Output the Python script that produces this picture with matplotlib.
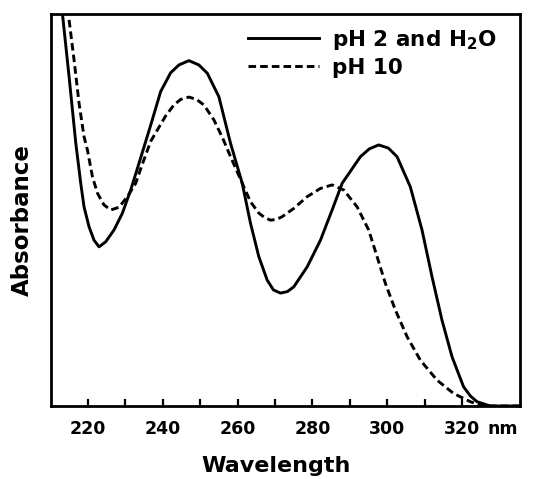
import numpy as np
import matplotlib
matplotlib.use('Agg')
import matplotlib.pyplot as plt

# absorption spectra (absorbance in arbitrary units, 0 = baseline)
wl_acid = [213.16, 214.93, 216.72, 218.05, 218.93, 220.27, 221.60, 222.94, 224.73, 226.94,
           229.19, 231.40, 233.62, 236.74, 239.41, 242.08, 244.30, 246.97, 249.64, 251.88,
           254.98, 258.10, 261.23, 263.44, 265.66, 267.90, 269.58, 271.46, 273.33, 275.01,
           278.59, 282.14, 285.26, 287.93, 292.82, 295.22, 297.70, 300.29, 302.62, 306.17,
           309.29, 311.96, 314.63, 317.30, 320.40, 322.19, 323.98, 327.53, 335.5]
abs_acid = [1.000, 0.840, 0.671, 0.568, 0.508, 0.457, 0.423, 0.406, 0.419, 0.449,
            0.492, 0.551, 0.619, 0.716, 0.802, 0.850, 0.870, 0.881, 0.870, 0.849,
            0.789, 0.670, 0.568, 0.466, 0.381, 0.321, 0.296, 0.288, 0.292, 0.304,
            0.355, 0.423, 0.500, 0.568, 0.636, 0.656, 0.666, 0.658, 0.636, 0.559,
            0.449, 0.330, 0.219, 0.126, 0.049, 0.026, 0.011, 0.0, 0.0]

wl_base = [214.93, 216.26, 217.60, 218.93, 219.84, 221.17, 222.51, 224.27, 226.06, 228.28,
           230.52, 232.74, 234.07, 236.74, 240.75, 242.96, 244.75, 246.97, 249.03, 250.97,
           253.64, 255.97, 258.10, 261.66, 263.44, 265.66, 267.18, 268.78, 270.39, 271.91,
           275.01, 278.59, 282.14, 285.26, 288.36, 291.94, 295.03, 297.28, 299.49, 302.16,
           305.29, 308.84, 313.30, 317.73, 322.19, 325.74, 335.5]
abs_base = [0.985, 0.883, 0.772, 0.687, 0.653, 0.585, 0.543, 0.513, 0.500, 0.507,
            0.534, 0.568, 0.605, 0.675, 0.740, 0.768, 0.782, 0.788, 0.782, 0.768,
            0.730, 0.684, 0.636, 0.559, 0.521, 0.492, 0.481, 0.474, 0.476, 0.483,
            0.504, 0.534, 0.555, 0.564, 0.551, 0.508, 0.449, 0.381, 0.313, 0.245,
            0.177, 0.117, 0.066, 0.032, 0.011, 0.0, 0.0]

xticks = list(range(220, 330, 10))
xticklabels = ['220', '', '240', '', '260', '', '280', '', '300', '', '320']

plt.rcParams['font.family'] = 'DejaVu Sans'
plt.rcParams['font.weight'] = 'bold'
plt.rcParams['axes.labelweight'] = 'bold'

fig = plt.figure(figsize=(5.45, 4.79), dpi=100)
ax = fig.add_axes([0.0936, 0.1524, 0.8606, 0.8184])

ax.plot(wl_acid, abs_acid, color='black', lw=2.1, solid_joinstyle='round',
        label='pH 2 and H$_\\mathbf{2}$O')
ax.plot(wl_base, abs_base, color='black', lw=2.1, linestyle=(0, (2.6, 1.4)),
        label='pH 10')

ax.set_xlim(210.1, 335.5)
ax.set_ylim(0, 1)
ax.set_yticks([])
ax.set_xticks(xticks)
ax.set_xticklabels(xticklabels)
ax.tick_params(axis='x', direction='in', length=5, width=1.6, pad=10, labelsize=12.5)

for s in ax.spines.values():
    s.set_linewidth(2.0)

ax.text(326.7, -0.058, 'nm', fontsize=12.5, ha='left', va='center',
        transform=ax.get_xaxis_transform())

ax.set_xlabel('Wavelength', fontsize=16)
ax.xaxis.set_label_coords(0.48, -0.127)
ax.set_ylabel('Absorbance', fontsize=16.5)
ax.yaxis.set_label_coords(-0.036, 0.474)

ax.legend(loc='upper right', frameon=False, fontsize=15.5, handlelength=3.3,
          handletextpad=0.6, labelspacing=0.28, borderaxespad=0.25,
          bbox_to_anchor=(0.98, 1.0))

plt.savefig('out.png', dpi=100)
